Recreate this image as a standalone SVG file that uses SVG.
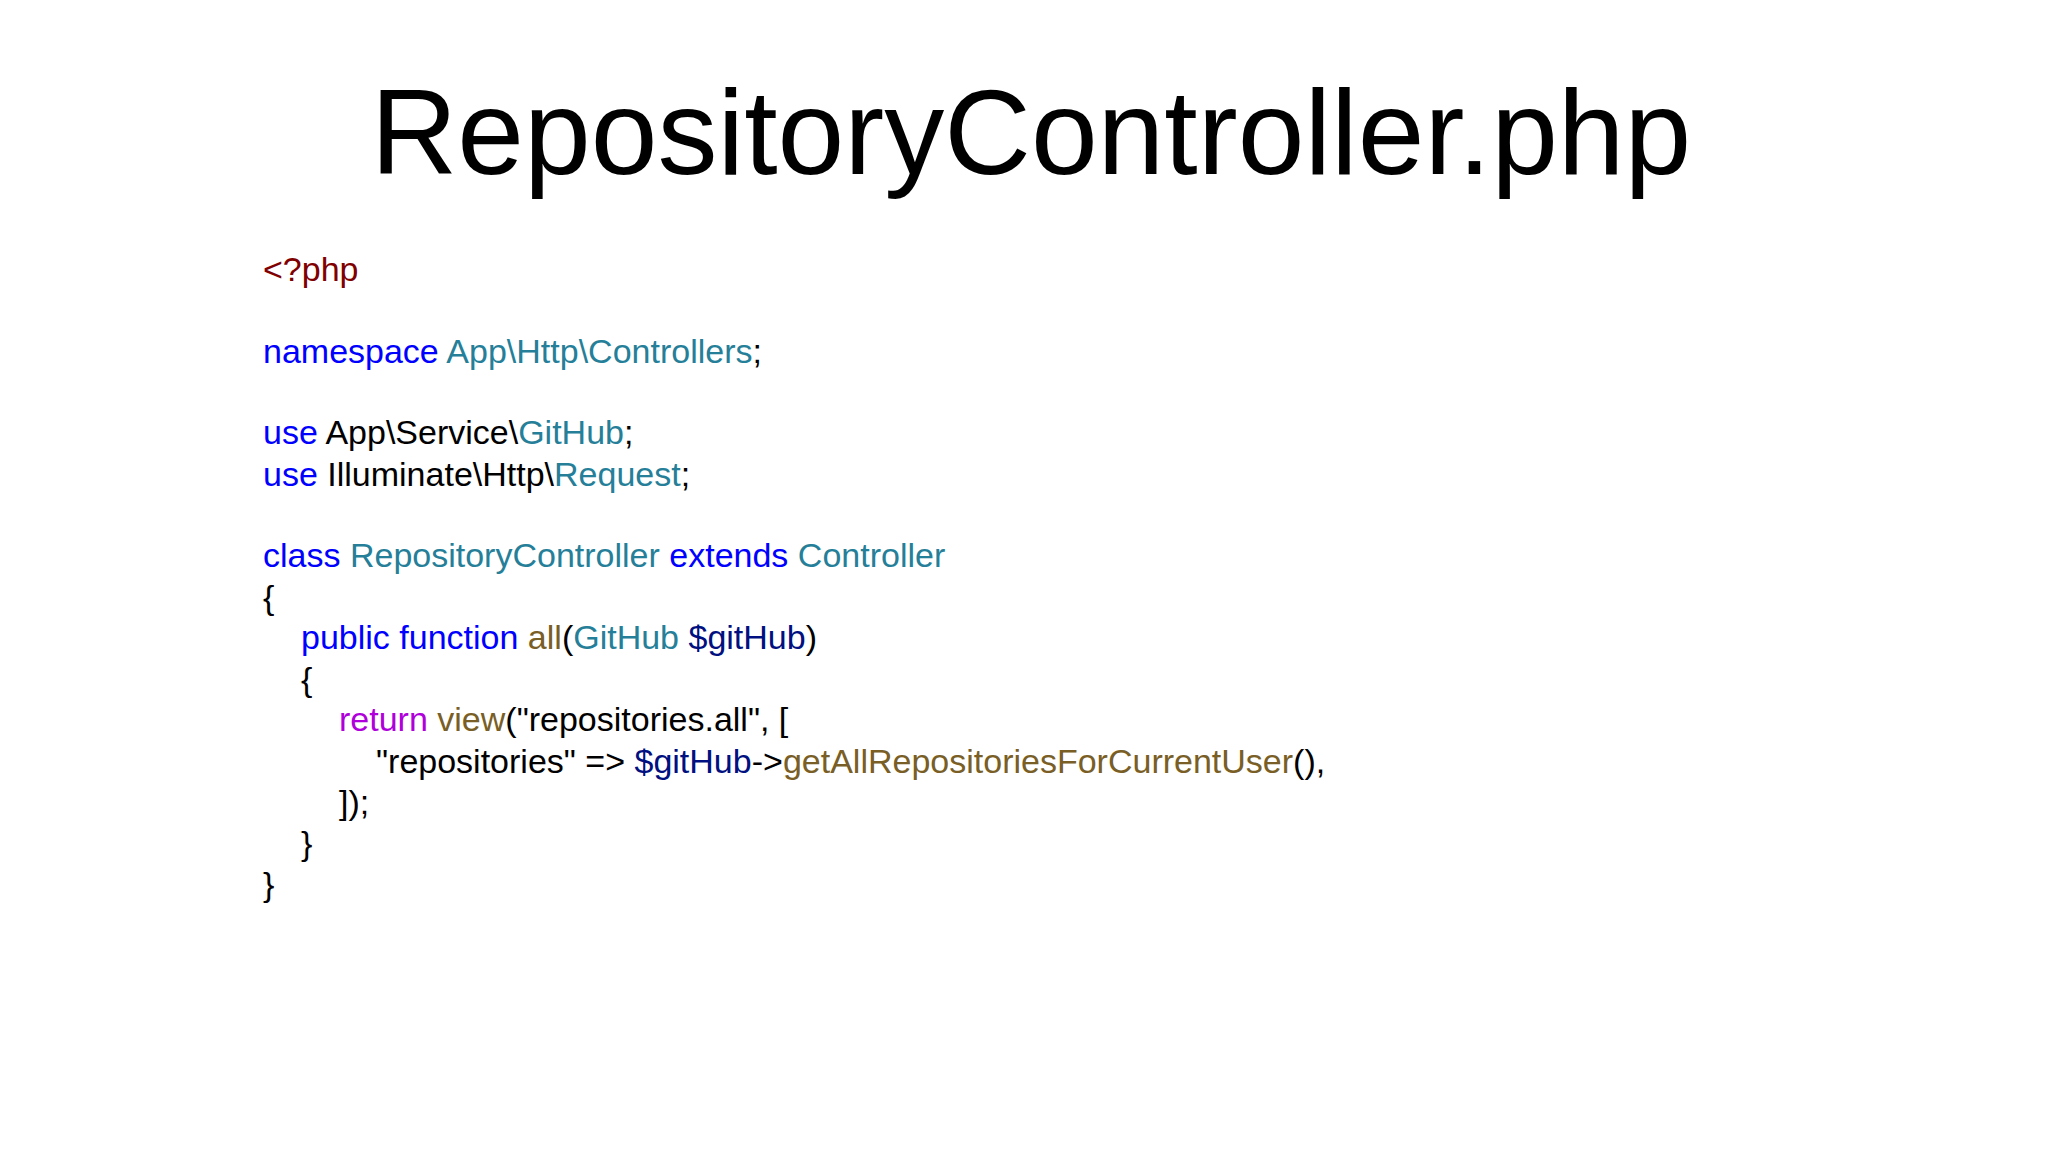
<svg xmlns="http://www.w3.org/2000/svg" width="2048" height="1152" viewBox="0 0 2048 1152">
<style>
.t{font-family:"Liberation Sans",Arial,sans-serif;}
.c{font-family:"Liberation Sans",Arial,sans-serif;font-size:34px;fill:#000;}
.k{fill:#0000ff}.ty{fill:#267f99}.v{fill:#001080}.f{fill:#795e26}.r{fill:#af00db}.p{fill:#800000}
</style>
<rect width="2048" height="1152" fill="#fff"/>
<g id="title"><text class="t" x="1031" y="174" font-size="120" text-anchor="middle">RepositoryController.php</text></g>
<g id="code">
<text class="c" x="263" y="281"><tspan class="p">&lt;?php</tspan></text>
<text class="c" x="263" y="363"><tspan class="k">namespace</tspan> <tspan class="ty">App\Http\Controllers</tspan>;</text>
<text class="c" x="263" y="444"><tspan class="k">use</tspan> App\Service\<tspan class="ty">GitHub</tspan>;</text>
<text class="c" x="263" y="486"><tspan class="k">use</tspan> Illuminate\Http\<tspan class="ty">Request</tspan>;</text>
<text class="c" x="263" y="567"><tspan class="k">class</tspan> <tspan class="ty">RepositoryController</tspan> <tspan class="k">extends</tspan> <tspan class="ty">Controller</tspan></text>
<text class="c" x="263" y="609">{</text>
<text class="c" x="301" y="649"><tspan class="k">public</tspan> <tspan class="k">function</tspan> <tspan class="f">all</tspan>(<tspan class="ty">GitHub</tspan> <tspan class="v">$gitHub</tspan>)</text>
<text class="c" x="301" y="691">{</text>
<text class="c" x="339" y="731"><tspan class="r">return</tspan> <tspan class="f">view</tspan>("repositories.all", [</text>
<text class="c" x="376" y="773">"repositories" =&gt; <tspan class="v">$gitHub</tspan>-&gt;<tspan class="f">getAllRepositoriesForCurrentUser</tspan>(),</text>
<text class="c" x="339" y="814">]);</text>
<text class="c" x="301" y="855">}</text>
<text class="c" x="263" y="896">}</text>
</g>
</svg>
